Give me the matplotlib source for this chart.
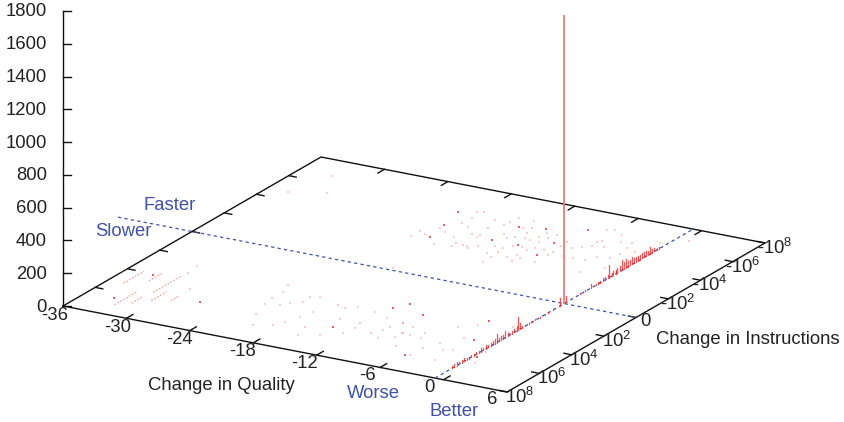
import numpy as np
import matplotlib
matplotlib.use("Agg")
import matplotlib.pyplot as plt

plt.rcParams['font.family'] = ['Liberation Sans', 'DejaVu Sans']
plt.rcParams['mathtext.fontset'] = 'custom'
plt.rcParams['mathtext.rm'] = 'Liberation Sans'
plt.rcParams['mathtext.default'] = 'rm'

# axis ticks
quality_ticks = [-36, -30, -24, -18, -12, -6, 0, 6]
instr_ticks = [8, 6, 4, 2, 0, -2, -4, -6, -8]   # signed exponent of the instruction change
instr_labels = ['$10^8$', '$10^6$', '$10^4$', '$10^2$', '0',
                '-$10^2$', '-$10^4$', '-$10^6$', '-$10^8$']
count_ticks = [0, 200, 400, 600, 800, 1000, 1200, 1400, 1600, 1800]

# the large bars sit on the line of unchanged quality
line_quality = -0.8
spike_e = 0
spike_n = 1761
bar_e = [6.95, 6.8, 6.65, 6.5, 6.35, 6.2, 6.05, 5.9, 5.75, 5.6, 5.45, 5.3, 5.15, 5.0, 4.85,
         4.7, 4.55, 4.4, 4.3, 4.18, 4.05, 3.9, 3.8, 3.66, 3.5, 3.4, 3.25, 3.1, 2.95, 2.84,
         2.75, 2.6, 2.4, 2.2, 2.0, 1.8, 1.5, 1.2, 1.0, 0.7, 0.25, -0.12,
         -1.0, -1.3, -1.66, -1.95, -2.1, -2.25, -2.4, -2.55, -2.7, -2.8, -2.95, -3.05, -3.2,
         -3.3, -3.45, -3.6, -3.72, -3.85, -3.97, -4.1, -4.2, -4.35, -4.45, -4.6, -4.72, -4.85,
         -4.95, -5.1, -5.2, -5.34, -5.45, -5.6, -5.75, -5.9]
bar_n = [12, 16, 20, 10, 14, 18, 14, 10, 16, 12, 14, 10, 20, 14, 22,
         16, 18, 22, 28, 50, 20, 22, 24, 38, 20, 14, 18, 22, 30, 82,
         40, 12, 8, 6, 6, 6, 5, 5, 5, 8, 46, 40,
         5, 6, 24, 8, 10, 12, 18, 16, 22, 74, 20, 24, 26,
         30, 36, 60, 40, 56, 34, 30, 44, 30, 34, 28, 30, 36,
         32, 28, 28, 40, 24, 18, 14, 10]

# pale points, one or two runs each
pale_q = [-19.14, -19.99, -17.89, -17.74, -17.0, -17.97, -15.86, -15.85, -15.16, -14.8, -14.04,
          -13.55, -14.74, -14.5, -12.97, -13.11, -10.77, -11.02, -11.54, -10.79, -11.83, -11.75,
          -12.79, -9.73, -9.55, -9.64, -8.79, -8.14, -9.92, -11.66, -8.0, -6.74, -15.84, -15.17,
          -15.4, -14.68,
          -19.9, -17.33, -16.85, -17.89, -18.18, -15.94, -12.87, -12.49, -12.07, -12.33, -12.44,
          -11.88, -10.62, -10.12, -10.02, -7.93, -7.88, -9.74, -10.66, -15.2, -18.82, -14.36,
          -11.57, -10.22,
          -6.23, -6.74, -5.14, -5.74, -6.09, -4.29, -7.04, -6.54, -5.92, -5.0, -3.41, -3.15, -2.15,
          -4.67, -5.7, -4.25, -2.23, -3.59, -3.1, -2.88, -1.4, 0.4, -8.22,
          -22.62, -22.15, -22.17, -21.9, -21.33, -20.19, -20.76, -20.25, -19.65, -18.95, -19.44,
          -16.63, -15.75, -14.92, -17.58, -17.91, -18.35, -18.77, -16.33, -15.78, -14.79, -12.59,
          -12.84, -12.79, -14.25, -10.79, -11.57, -13.21, -10.31, -10.37, -8.73, -8.59, -9.78,
          -7.51, -9.71,
          -9.77, -8.66, -8.66, -7.01, -6.64, -7.87, -5.29, -5.41, -4.8, -3.03, -3.66, -5.47, -4.25,
          -3.64, -2.95, -0.44, 0.21, -1.58, -32.9, -31.15, -34.05, -17.3, -29.05, -31.44, -31.13]
pale_e = [-3.41, -3.08, -5.48, -6.16, -4.64, -3.88, -2.91, -3.17, -3.13, -3.15, -3.31,
          -4.65, -5.39, -6.16, -5.42, -6.18, -5.0, -4.6, -3.87, -3.93, -3.16, -2.63,
          -3.59, -2.61, -3.0, -4.0, -4.0, -4.6, -5.0, -2.12, -2.92, -3.85, -4.14, -4.22,
          -4.88, -5.76,
          -3.6, -2.74, -3.67, -4.87, -6.0, -5.66, -4.36, -4.63, -5.08, -5.56, -2.84,
          -3.5, -2.88, -3.18, -3.73, -4.01, -3.67, -5.41, -5.39, -4.03, -4.13, -2.96,
          -4.65, -4.59,
          -6.73, -6.55, -6.43, -5.58, -5.5, -5.82, -4.57, -4.86, -5.07, -5.2, -5.91, -5.43, -5.29,
          -3.84, -3.79, -4.29, -3.48, -2.82, -4.36, -4.85, -6.35, -6.93, -5.03,
          2.8, 3.41, 4.13, 4.72, 5.67, 6.57, 4.54, 4.25, 3.4, 3.24, 3.96,
          3.63, 3.79, 3.5, 4.56, 5.16, 5.81, 6.26, 5.9, 6.67, 4.73, 5.25,
          4.77, 5.84, 6.33, 5.4, 3.95, 3.59, 4.57, 4.94, 5.3, 4.91, 4.09,
          6.0, 5.69,
          4.1, 4.93, 4.21, 4.57, 5.02, 4.93, 5.81, 6.55, 5.09, 6.56, 5.63, 3.51, 3.07,
          4.36, 5.48, 5.1, 6.21, 2.65, -6.68, -5.22, -4.7, -0.23, 4.7, 2.7, 3.43]

# stronger points
dark_q = [-19.63, -18.99, -18.51, -13.73, -13.47, -11.26, -11.29, -8.7, -8.91, -8.12, -14.32,
          -12.32, -5.77, -11.67, -9.38, -4.01, -2.72, -0.44, -33.33, -33.4, -26.75]
dark_e = [-5.74, -4.45, -3.30, -3.99, -5.49, -5.72, -3.99, -3.49, -4.7, -6.31, 5.45,
          3.04, 6.63, 2.43, 3.12, 2.55, 4.35, 5.63, 6.6, 4.11, 5.59]

# streaks in the low quality corner: quality, then the two ends in signed exponent
streak_q = [-36.0, -34.5, -33.0, -32.5, -31.5, -31.3, -30.4, -29.0]
streak_e0 = [4.5, 5.25, 4.65, 7.1, 6.7, 5.5, 6.2, 5.9]
streak_e1 = [4.05, 3.95, 3.85, 5.75, 6.0, 3.75, 5.25, 5.4]


def proj(q, e, n=0):
    # fixed view of the box: quality, signed exponent, count -> image pixels
    q = np.asarray(q, dtype=float)
    e = np.asarray(e, dtype=float)
    n = np.asarray(n, dtype=float)
    x = 63 + (q + 36) * 444 / 42 + (8 - e) * 258 / 16
    y = 306 + (q + 36) * 86 / 42 - (8 - e) * 149 / 16 - n * 295 / 1800
    return x, y


fig = plt.figure(figsize=(8.45, 4.22), dpi=100)
ax = fig.add_axes([0, 0, 1, 1])
ax.set_xlim(0, 845)
ax.set_ylim(422, 0)
ax.axis('off')

black = '#111111'
text_col = '#222222'
blue = '#3f51a8'
fs = 13.3

# floor of the box and count axis
corner_q = [-36, 6, 6, -36, -36]
corner_e = [8, 8, -8, -8, 8]
x, y = proj(corner_q, corner_e)
ax.plot(x, y, color=black, lw=1.0, solid_joinstyle='miter', zorder=2)
x0, y0 = proj(-36, 8)
x1, y1 = proj(-36, 8, 1800)
ax.plot([x0, x1], [y0, y1], color=black, lw=1.0, zorder=2)

for n in count_ticks:
    tx, ty = proj(-36, 8, n)
    ax.plot([tx, tx + 8], [ty, ty], color=black, lw=1.0, zorder=2)
    ax.text(tx - 16, ty + 1, str(n), ha='right', va='center', fontsize=fs, color=text_col)

for i, q in enumerate(quality_ticks):
    tx, ty = proj(q, 8)
    bx, by = proj(q, -8)
    if q > -36 and q < 6:
        ax.plot([tx, tx + 6.5], [ty, ty - 3.8], color=black, lw=1.0, zorder=2)
        ax.plot([bx, bx - 6.5], [by, by + 3.8], color=black, lw=1.0, zorder=2)
    ax.text(tx - 8 - i, ty + 9.5 - 0.3 * i, str(q), ha='center', va='center',
            fontsize=fs, color=text_col)

for e, lab in zip(instr_ticks, instr_labels):
    tx, ty = proj(-36, e)
    bx, by = proj(6, e)
    if abs(e) < 8:
        ax.plot([tx, tx + 7.5], [ty, ty + 1.5], color=black, lw=1.0, zorder=2)
    ax.plot([bx, bx - 7.5], [by, by - 1.5], color=black, lw=1.0, zorder=2)
    if e == 0:
        ax.text(bx + 4, by + 4, lab, ha='left', va='center', fontsize=fs, color=text_col)
    elif e > 0:
        ax.text(bx - 2, by + 5, lab, ha='left', va='center', fontsize=fs, color=text_col)
    else:
        ax.text(bx - 8, by + 5, lab, ha='left', va='center', fontsize=fs, color=text_col)

# dashed lines of no change
x, y = proj([line_quality, line_quality], [8, -8])
ax.plot(x, y, color=blue, lw=0.9, ls=(0, (2.6, 2.6)), zorder=3)
x, y = proj([-43, 6], [0, 0])
ax.plot(x, y, color=blue, lw=0.9, ls=(0, (2.6, 2.6)), zorder=3)

# points
x, y = proj(pale_q, pale_e)
ax.scatter(x, y, s=1.6, marker='s', color='#f0706a', alpha=0.35, linewidths=0, zorder=4)
x, y = proj(dark_q, dark_e)
ax.scatter(x, y, s=1.7, marker='s', color='#e02020', alpha=0.7, linewidths=0, zorder=4)
for q, e0, e1 in zip(streak_q, streak_e0, streak_e1):
    x, y = proj([q, q], [e0, e1])
    ax.plot(x, y, color='#ea4a44', lw=0.8, alpha=0.55, ls=(0, (1.6, 1.4)), zorder=4)

# impulses
for e, n in zip(bar_e, bar_n):
    xa, ya = proj(line_quality, e)
    xb, yb = proj(line_quality, e, n)
    ax.plot([xa, xb], [ya, yb], color='#ee3030', lw=0.9, alpha=0.8, zorder=5)
xa, ya = proj(line_quality, spike_e)
xb, yb = proj(line_quality, spike_e, spike_n)
ax.plot([xa, xb], [ya, yb], color='#f07070', lw=1.2, zorder=5, solid_capstyle='butt')

# axis titles and annotations
ax.text(221.5, 386, 'Change in Quality', ha='center', va='center', fontsize=fs, color=text_col)
ax.text(747.5, 340, 'Change in Instructions', ha='center', va='center', fontsize=fs, color=text_col)
ax.text(373.5, 393, 'Worse', ha='center', va='center', fontsize=fs, color=blue)
ax.text(454, 412, 'Better', ha='center', va='center', fontsize=fs, color=blue)
ax.text(169.5, 205, 'Faster', ha='center', va='center', fontsize=fs, color=blue)
ax.text(123.5, 232, 'Slower', ha='center', va='center', fontsize=fs, color=blue)

plt.savefig('out.png', dpi=100)
